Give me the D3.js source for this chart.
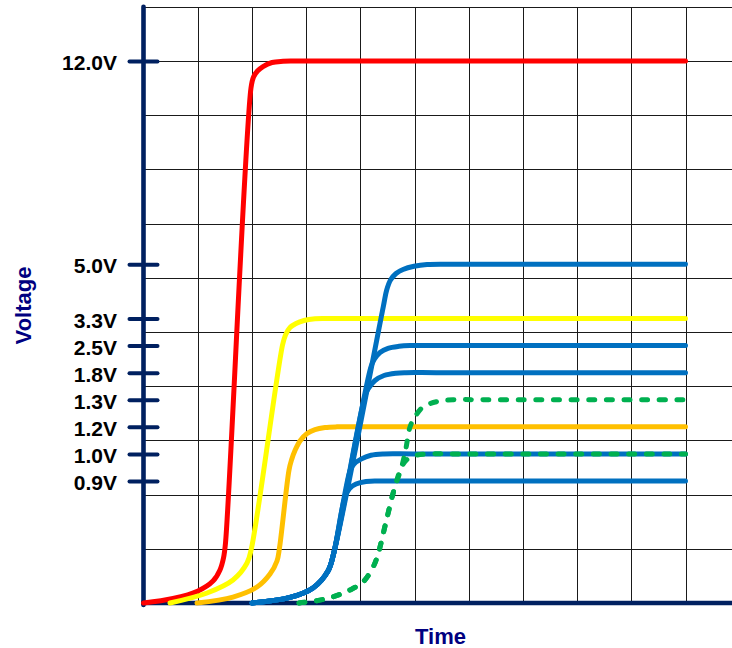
<!DOCTYPE html>
<html>
<head>
<meta charset="utf-8">
<script src="https://cdn.jsdelivr.net/npm/d3@7"></script>
<style>
  html, body { margin: 0; padding: 0; background: #ffffff; }
  svg { display: block; }
</style>
</head>
<body>
<div id="chart"></div>
<script>
// ---------------- DATA ----------------
// Y axis tick values (volts) and their labels
const tickVolts  = [0.9, 1.0, 1.2, 1.3, 1.8, 2.5, 3.3, 5.0, 12.0];
const tickLabels = ["0.9V", "1.0V", "1.2V", "1.3V", "1.8V", "2.5V", "3.3V", "5.0V", "12.0V"];

// Each series: [time (grid divisions), voltage (V)]
const rail12V = [[0,0],[0.544,0.033],[1.006,0.089],[1.282,0.162],[1.411,0.244],[1.476,0.332],[1.513,0.443],
  [1.983,11.07],[2.030,11.45],[2.103,11.655],[2.205,11.81],[2.371,11.948],[2.574,11.99],[2.740,12.0],[3.4,12.0],[10,12.0]];

const rail3V3 = [[0.489,0],[1.172,0.074],[1.651,0.170],[1.910,0.295],[1.993,0.406],
  [2.565,2.516],[2.620,2.812],[2.703,3.033],[2.814,3.151],[2.961,3.239],[3.164,3.290],[3.349,3.3],[4.0,3.3],[10,3.3]];

const rail1V2 = [[0.987,0],[1.651,0.044],[2.094,0.118],[2.334,0.214],[2.463,0.310],[2.509,0.406],
  [2.685,0.941],[2.731,0.978],[2.795,1.025],[2.887,1.096],[3.017,1.151],[3.164,1.180],[3.349,1.195],[3.570,1.2],[4.2,1.2],[10,1.2]];

const blueFoot = [[2.002,0],[2.703,0.041],[3.127,0.111],[3.404,0.236],[3.515,0.376]];
const rail5V0 = blueFoot.concat([[4.424,3.669],[4.487,4.192],[4.557,4.506],[4.659,4.710],[4.788,4.835],[4.991,4.936],[5.231,4.992],[5.8,5.0],[10,5.0]]);
const rail2V5 = blueFoot.concat([[4.196,1.946],[4.262,2.153],[4.363,2.321],[4.511,2.429],[4.714,2.481],[4.917,2.5],[5.5,2.5],[10,2.5]]);
const rail1V8 = blueFoot.concat([[4.092,1.388],[4.161,1.526],[4.271,1.655],[4.437,1.747],[4.659,1.790],[4.843,1.8],[5.4,1.8],[10,1.8]]);
const rail1V0 = blueFoot.concat([[3.815,0.941],[3.884,0.963],[4.013,0.981],[4.197,0.995],[4.437,1.0],[5.0,1.0],[10,1.0]]);
const rail0V9 = blueFoot.concat([[3.716,0.782],[3.801,0.845],[3.921,0.878],[4.105,0.897],[4.364,0.9],[4.9,0.9],[10,0.9]]);

const greenFoot = [[2.869,0],[3.196,0.017],[3.502,0.046],[3.810,0.096],[4.055,0.157],[4.240,0.268],[4.332,0.367],
  [4.474,0.598],[4.622,0.834],[4.764,0.953]];
const rail1V3dash = greenFoot.concat([[4.843,1.044],[4.917,1.199],[5.009,1.237],[5.162,1.274],[5.410,1.293],[5.710,1.3],[6.3,1.3],[10,1.3]]);
const rail1V0dash = greenFoot.concat([[4.854,0.978],[5.009,0.994],[5.249,1.0],[5.8,1.0],[10,1.0]]);

const series = [
  { name: "12.0V", color: "#ff0000", values: rail12V },
  { name: "3.3V",  color: "#ffff00", values: rail3V3 },
  { name: "1.2V",  color: "#ffc000", values: rail1V2 },
  { name: "5.0V",  color: "#0070c0", values: rail5V0 },
  { name: "2.5V",  color: "#0070c0", values: rail2V5 },
  { name: "1.8V",  color: "#0070c0", values: rail1V8 },
  { name: "1.0V",  color: "#0070c0", values: rail1V0 },
  { name: "0.9V",  color: "#0070c0", values: rail0V9 },
  { name: "1.3V",  color: "#00b050", values: rail1V3dash, dashed: true },
  { name: "1.0V",  color: "#00b050", values: rail1V0dash, dashed: true }
];

// ---------------- LAYOUT ----------------
const W = 732, H = 648;
const axisColor = "#002060";
const titleColor = "#000080";
const font = "'Liberation Sans', Arial, Helvetica, sans-serif";

const svg = d3.select("#chart").append("svg").attr("width", W).attr("height", H);

// time scale (grid divisions) and grid-level scale
const x = d3.scaleLinear().domain([0, 10]).range([143.5, 685.5]);
const gy = d3.scaleLinear().domain([0, 11]).range([603, 6.8]);
// schematic (piecewise) voltage axis: each tick sits on a fixed grid level
const tickLevels = [0, 2.25, 2.75, 3.25, 3.75, 4.25, 4.75, 5.25, 6.25, 10];
const y = d3.scaleLinear().domain([0].concat(tickVolts)).range(tickLevels.map(gy));

const xMaxT = x.invert(W);

// grid
const grid = svg.append("g").attr("stroke", "#1a1a1a").attr("stroke-width", 1).attr("shape-rendering", "crispEdges");
grid.selectAll("line.h").data(d3.range(1, 12)).join("line")
  .attr("x1", x(0)).attr("x2", W)
  .attr("y1", d => Math.round(gy(d)) + 0.5).attr("y2", d => Math.round(gy(d)) + 0.5);
grid.selectAll("line.v").data(d3.range(1, 11)).join("line")
  .attr("y1", gy(11)).attr("y2", gy(0))
  .attr("x1", d => Math.round(x(d)) + 0.5).attr("x2", d => Math.round(x(d)) + 0.5);

// y axis with ticks
const yAxis = d3.axisLeft(y).tickValues(tickVolts).tickFormat((d, i) => tickLabels[i]).tickSize(15);
const ya = svg.append("g").attr("transform", `translate(${x(0)},0)`).call(yAxis);
ya.select(".domain").remove();
ya.selectAll(".tick line")
  .attr("x1", 14).attr("x2", -14)
  .attr("stroke", axisColor).attr("stroke-width", 4).attr("stroke-linecap", "round");
ya.selectAll(".tick text")
  .attr("x", -26.5).attr("dy", "0.41em")
  .attr("fill", "#000").attr("font-family", font).attr("font-weight", "bold").attr("font-size", 21);

// axis lines
svg.append("line")
  .attr("x1", x(0)).attr("x2", x(0)).attr("y1", gy(11)).attr("y2", gy(0) + 2)
  .attr("stroke", axisColor).attr("stroke-width", 4.6).attr("stroke-linecap", "round");
svg.append("line")
  .attr("x1", x(0) - 2.3).attr("x2", x(xMaxT)).attr("y1", gy(0)).attr("y2", gy(0))
  .attr("stroke", axisColor).attr("stroke-width", 4.6);

// curves
const line = d3.line()
  .x(d => x(d[0])).y(d => y(d[1]))
  .curve(d3.curveCatmullRom.alpha(0.5));

svg.append("g").selectAll("path").data(series).join("path")
  .attr("d", d => line(d.values))
  .attr("fill", "none")
  .attr("stroke", d => d.color)
  .attr("stroke-width", 5)
  .attr("stroke-linecap", "round")
  .attr("stroke-linejoin", "round")
  .attr("stroke-dasharray", d => d.dashed ? "6 11.6" : null);

// axis titles
svg.append("text")
  .attr("transform", "translate(31,305.5) rotate(-90)")
  .attr("text-anchor", "middle")
  .attr("fill", titleColor).attr("font-family", font).attr("font-weight", "bold").attr("font-size", 22)
  .text("Voltage");
svg.append("text")
  .attr("x", 440.5).attr("y", 644)
  .attr("text-anchor", "middle")
  .attr("fill", titleColor).attr("font-family", font).attr("font-weight", "bold").attr("font-size", 22)
  .text("Time");
</script>
</body>
</html>
